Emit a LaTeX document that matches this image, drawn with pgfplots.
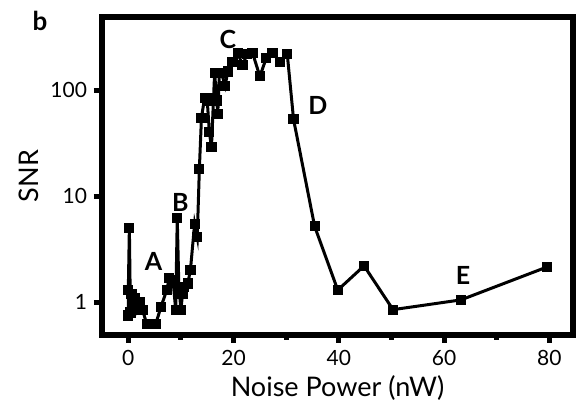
\documentclass[border=0pt]{standalone}
\usepackage{fontspec}
\setmainfont{Lato}
\usepackage{pgfplots}
\pgfplotsset{compat=1.18}
\begin{document}
\begin{tikzpicture}
\begin{axis}[
  name=ax,
  at={(0,0)}, anchor=south west,
  scale only axis,
  width=235.5pt, height=159pt,
  ymode=log,
  xmin=-5, xmax=84.5,
  ymin=0.49, ymax=490,
  axis line style={line width=2.6pt},
  xtick={0,20,40,60,80},
  minor xtick={10,30,50,70},
  ytick={1,10,100},
  yticklabels={1,10,100},
  yminorticks=false,
  tick align=outside,
  tick pos=left,
  major tick length=4pt,
  minor tick length=2.5pt,
  major tick style={line width=2.5pt,black},
  minor tick style={line width=2.5pt,black},
  /pgf/number format/assume math mode=true,
  tick label style={font=\fontsize{10.5}{12}\selectfont},
  xlabel={Noise Power (nW)},
  ylabel={SNR},
  label style={font=\fontsize{13.5}{15}\selectfont},
  xlabel style={yshift=2pt},
  ylabel style={yshift=-1pt},
  clip=false,
]
\addplot[black, line width=1.5pt, mark=square*, mark size=1.8pt, mark options={solid}]
coordinates {
(0,0.75) (0,1.3) (0.2,5.0) (0.4,0.8) (0.6,1.2) (1,0.9) (1.3,1.1) (1.7,0.85)
(2.2,1.0) (2.7,0.85) (3.5,0.62) (4.6,0.62) (5.2,0.62) (6.2,0.9) (7.3,1.3)
(7.8,1.7) (8.5,1.6) (9.0,0.85) (9.3,6.2) (9.6,1.4) (10.0,0.85) (10.3,1.2)
(10.6,1.4) (11.3,1.5) (11.8,2.0) (12.6,5.5) (13.1,4.1) (13.5,18) (13.9,55)
(14.5,85) (15.0,80) (15.4,40) (15.8,29) (16.2,85) (16.4,145) (16.8,80)
(17.0,60) (17.3,145) (17.7,145) (18.4,110) (18.9,150) (19.8,185) (20.8,225)
(21.7,172) (22.6,220) (23.6,225) (25.0,135) (26.2,200) (27.4,225) (28.8,185)
(30.2,220) (31.4,53) (35.4,5.2) (39.8,1.3) (44.8,2.2) (50.3,0.85) (63.2,1.05)
(79.6,2.15)
};
\node[font=\bfseries\fontsize{12.5}{14}\selectfont] at (axis cs:4.8,2.4) {A};
\node[font=\bfseries\fontsize{12.5}{14}\selectfont] at (axis cs:9.9,8.8) {B};
\node[font=\bfseries\fontsize{12.5}{14}\selectfont] at (axis cs:18.9,300) {C};
\node[font=\bfseries\fontsize{12.5}{14}\selectfont] at (axis cs:36,72) {D};
\node[font=\bfseries\fontsize{12.5}{14}\selectfont] at (axis cs:63.6,1.8) {E};
\end{axis}
\node[font=\bfseries\fontsize{13}{15}\selectfont] at (-31pt,157pt) {b};
\pgfresetboundingbox
\path (-51pt,-37.5pt) rectangle (237pt,167.5pt);
\end{tikzpicture}
\end{document}
